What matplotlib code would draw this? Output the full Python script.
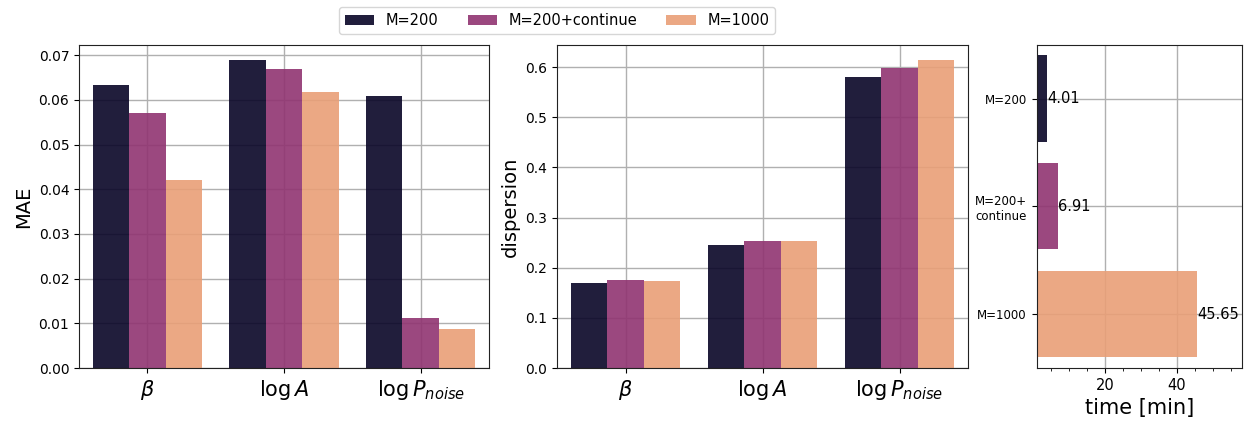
import matplotlib
matplotlib.use("Agg")
import matplotlib.pyplot as plt
import numpy as np
from matplotlib.patches import Patch
from matplotlib.ticker import MultipleLocator

params = [r'$\beta$', r'$\log A$', r'$\log P_{noise}$']
methods = ['M=200', 'M=200+continue', 'M=1000']
time_labels = ['M=200', 'M=200+\ncontinue', 'M=1000']
mae = {
    'M=200': [0.0633, 0.0689, 0.0608],
    'M=200+continue': [0.0570, 0.0669, 0.0112],
    'M=1000': [0.0421, 0.0617, 0.0087],
}
dispersion = {
    'M=200': [0.169, 0.245, 0.580],
    'M=200+continue': [0.175, 0.253, 0.598],
    'M=1000': [0.173, 0.253, 0.614],
}
times = [4.01, 6.91, 45.65]
colors = ['#090527', '#903471', '#e99f77']
ALPHA = 0.9

fig = plt.figure(figsize=(12.56, 4.22), dpi=100)
W, H = 1256, 422
def ax_at(l, r, t, b):
    return fig.add_axes([l / W, 1 - b / H, (r - l) / W, (b - t) / H])

ax1 = ax_at(79, 489, 44.7, 368)
ax2 = ax_at(557, 968, 44.7, 368)
ax3 = ax_at(1036.5, 1242, 44.7, 368)

def grouped(ax, data, ylabel, ylsize):
    x = np.arange(len(params))
    w = 0.8 / len(methods)
    for i, m in enumerate(methods):
        ax.bar(x - 0.4 + w * (i + 0.5), data[m], width=w, color=colors[i],
               alpha=ALPHA, zorder=2)
    ax.set_xticks(x)
    ax.set_xticklabels(params, fontsize=15)
    ax.set_xlim(-0.5, len(params) - 0.5)
    ax.set_ylabel(ylabel, fontsize=ylsize)
    ax.grid(True, color='#b0b0b0', linewidth=1, zorder=0)
    ax.set_axisbelow(True)
    ax.tick_params(axis='y', labelsize=10)

grouped(ax1, mae, 'MAE', 14)
grouped(ax2, dispersion, 'dispersion', 14)
ax1.set_yticks(np.arange(0, 0.071, 0.01))
ax2.set_yticks(np.arange(0, 0.61, 0.1))

y = np.arange(len(times))
ax3.barh(y, times, height=0.8, color=colors, alpha=ALPHA, zorder=2)
for yi, t in zip(y, times):
    ax3.text(t, yi, f'{t:.2f}', va='center', ha='left', fontsize=10.5)
ax3.set_yticks(y)
ax3.set_yticklabels(time_labels, fontsize=8.5)
ax3.set_ylim(2.5, -0.5)
ax3.set_xlim(1, 58)
ax3.set_xticks([20, 40])
ax3.xaxis.set_minor_locator(MultipleLocator(5))
ax3.tick_params(axis='x', labelsize=10.5)
ax3.set_xlabel('time [min]', fontsize=15)
ax3.grid(True, color='#b0b0b0', linewidth=1, zorder=0)
ax3.set_axisbelow(True)

for ax in (ax1, ax2, ax3):
    for s in ax.spines.values():
        s.set_color('#222222')

handles = [Patch(facecolor=c, alpha=ALPHA, label=m) for c, m in zip(colors, methods)]
fig.legend(handles=handles, loc='upper center', ncol=3, bbox_to_anchor=(0.4435, 1.0),
           fontsize=10.5, handlelength=2, columnspacing=2)

fig.savefig('out.png', dpi=100)
